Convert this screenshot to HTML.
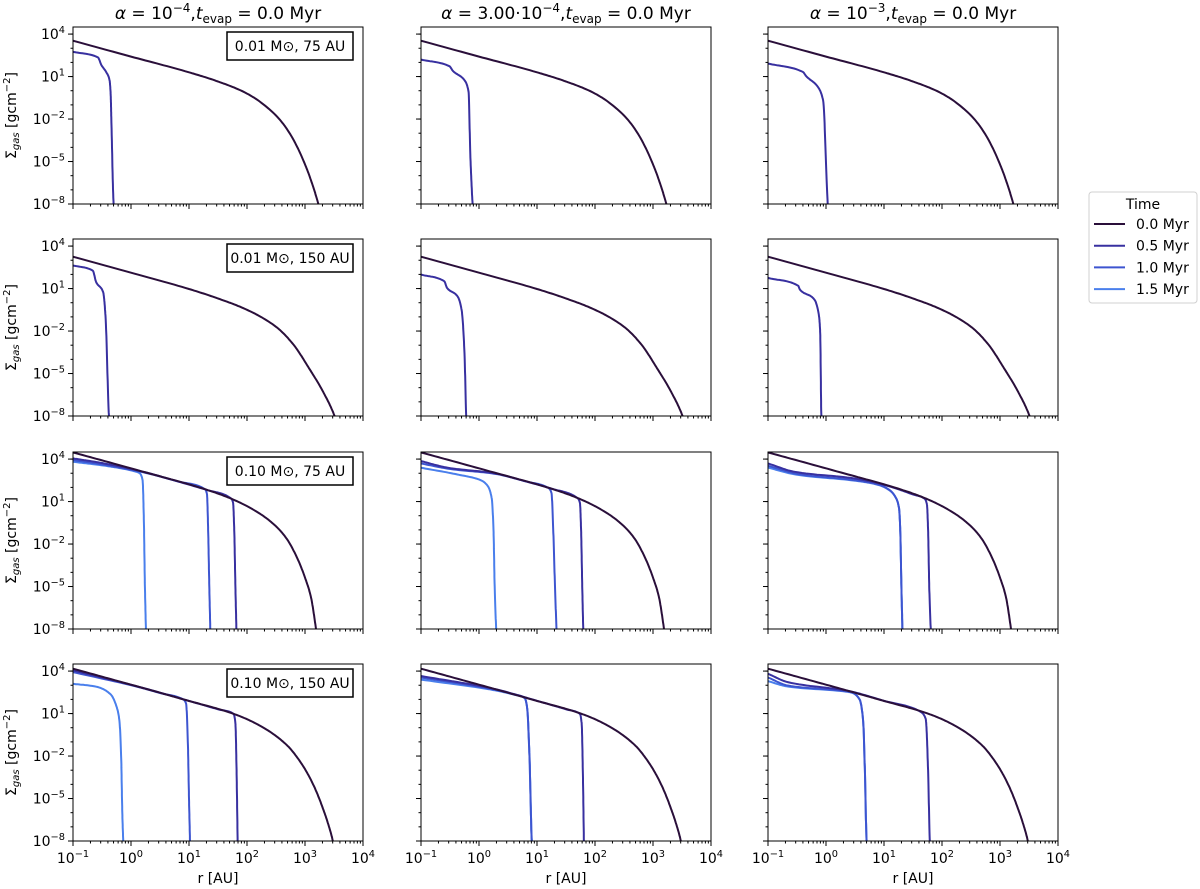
<!DOCTYPE html>
<html><head><meta charset="utf-8"><style>
html,body{margin:0;padding:0;background:#fff;}
svg{display:block;font-family:"DejaVu Sans","Liberation Sans",sans-serif;}
</style></head><body>
<svg id="fig" width="1200" height="889" viewBox="0 0 1200 889" xmlns="http://www.w3.org/2000/svg">
<g id="plots"></g>
<g id="legend">
  <rect x="1089" y="192" width="108" height="111" rx="3" fill="#fff" stroke="#d0d0d0"/>
  <text x="1143" y="209" font-size="14" text-anchor="middle">Time</text>
</g>
</svg>
<script>
// ---- data (log10 r [AU], log10 Sigma [g cm^-2]) ----
const timeLabels = ["0.0 Myr","0.5 Myr","1.0 Myr","1.5 Myr"];
const timeColors = ["#2a0f3a","#3830a0","#3d55d0","#4a7fec"];
const colTitles = [["10","−4",""],["3.00·10","−4",""],["10","−3",""]];
const rowNotes = ["0.01 M\u2299,  75 AU","0.01 M\u2299, 150 AU","0.10 M\u2299,  75 AU","0.10 M\u2299, 150 AU"];
const xTicks = [-1,0,1,2,3,4];
const yTicks = [4,1,-2,-5,-8];

// initial profiles (0.0 Myr), one per row
const t0R_row1 = [-1,0,1,1.5,2,2.5,2.75,3.0,3.15,3.23,3.27];
const t0S_row1 = [3.53,2.41,1.3,0.65,-0.2,-1.75,-3.1,-5.2,-6.9,-8.0,-8.6];
const t0R_row2 = [-1,0,1,1.5,2,2.5,2.8,3.05,3.3,3.51,3.55];
const t0S_row2 = [3.25,2.12,0.97,0.3,-0.5,-1.7,-2.95,-4.5,-6.2,-8.0,-8.5];
const t0R_row3 = [-1,0.26,1.24,1.73,2.22,2.5,2.68,2.85,3.02,3.1,3.19,3.21];
const t0S_row3 = [4.47,3.05,1.92,1.2,0.15,-0.75,-1.6,-2.85,-4.6,-5.7,-8.0,-8.6];
const t0R_row4 = [-1,0.15,0.95,1.79,2.22,2.68,2.95,3.14,3.3,3.45,3.48,3.5];
const t0S_row4 = [4.17,2.87,1.95,0.95,0.15,-1.2,-2.6,-4.0,-5.6,-7.5,-8.0,-8.4];

// 0.5 Myr profiles [row][col]
const t05R_r1c1=[-1,-0.57,-0.51,-0.43,-0.37,-0.35,-0.34,-0.3,-0.29], t05S_r1c1=[2.75,2.35,1.81,1.33,0.75,-0.3,-1.86,-8,-8.5];
const t05R_r1c2=[-1,-0.51,-0.45,-0.25,-0.18,-0.15,-0.11,-0.1], t05S_r1c2=[2.2,1.73,1.4,0.74,-0.09,-4.46,-8,-8.5];
const t05R_r1c3=[-1,-0.4,-0.34,-0.14,-0.05,0.03,0.04], t05S_r1c3=[1.92,1.33,1.02,0.27,-0.68,-8,-8.5];
const t05R_r2c1=[-1,-0.66,-0.6,-0.48,-0.44,-0.38,-0.37], t05S_r2c1=[2.63,2.27,1.45,0.74,-0.92,-8,-8.5];
const t05R_r2c2=[-1,-0.6,-0.55,-0.37,-0.3,-0.25,-0.22,-0.21], t05S_r2c2=[1.99,1.52,1.04,0.45,-0.5,-3.57,-8,-8.5];
const t05R_r2c3=[-1,-0.48,-0.45,-0.2,-0.12,-0.1,-0.08,-0.07], t05S_r2c3=[1.75,1.2,0.93,0.22,-0.96,-2.15,-8,-8.5];
const t05R_r3c1=[-1,-0.5,0.26,0.8,1.3,1.73,1.76,1.78,1.8,1.82], t05S_r3c1=[4.05,3.72,3.05,2.43,1.83,1.2,0.9,-1,-5,-8.5];
const t05R_r3c2=[-1,-0.54,0.26,0.8,1.24,1.7,1.74,1.76,1.78,1.8], t05S_r3c2=[3.86,3.39,3.0,2.43,1.92,1.24,0.9,-1,-5,-8.5];
const t05R_r3c3=[-1,-0.54,0.49,1.07,1.5,1.7,1.74,1.76,1.78,1.81], t05S_r3c3=[3.69,3.1,2.63,2.1,1.5,1.2,0.8,-1,-5,-8.5];
const t05R_r4c1=[-1,0.15,0.95,1.5,1.77,1.8,1.82,1.84], t05S_r4c1=[4.05,2.87,1.95,1.3,0.97,0.3,-3,-8.5];
const t05R_r4c2=[-1,0.25,1.0,1.5,1.74,1.77,1.79,1.81], t05S_r4c2=[3.65,2.75,1.9,1.3,0.97,0.3,-3,-8.5];
const t05R_r4c3=[-1,-0.66,0.38,1.0,1.64,1.72,1.76,1.79,1.8], t05S_r4c3=[3.81,3.22,2.6,1.9,1.1,0.6,-3,-8,-8.5];

// 1.0 Myr profiles (rows 3-4 only)
const t10R_r3c1=[-1,-0.5,0.26,0.8,1.28,1.31,1.33,1.35,1.37], t10S_r3c1=[3.93,3.62,3.02,2.43,1.86,1.5,-1,-5,-8.5];
const t10R_r3c2=[-1,-0.48,0.26,0.8,1.2,1.25,1.28,1.31,1.34], t10S_r3c2=[3.69,3.29,2.97,2.43,1.95,1.6,-1,-5,-8.5];
const t10R_r3c3=[-1,-0.48,0.49,0.9,1.1,1.2,1.26,1.28,1.3,1.32], t10S_r3c3=[3.53,2.94,2.51,2.2,1.8,1.3,0.5,-1,-5,-8.5];
const t10R_r4c1=[-1,0.15,0.5,0.9,0.95,0.98,1.0,1.02], t10S_r4c1=[3.93,2.85,2.45,2.0,1.7,-1,-5,-8.5];
const t10R_r4c2=[-1,0.25,0.6,0.79,0.83,0.87,0.91,0.92], t10S_r4c2=[3.55,2.7,2.36,2.1,1.4,-2,-8,-8.5];
const t10R_r4c3=[-1,-0.66,0.3,0.44,0.58,0.64,0.67,0.7,0.71], t10S_r4c3=[3.55,2.98,2.6,2.5,2.0,0.5,-3,-8,-8.5];

// 1.5 Myr profiles (rows 3-4 only)
const t15R_r3c1=[-1,-0.4,0.05,0.15,0.2,0.22,0.24,0.26], t15S_r3c1=[3.81,3.5,3.15,3.0,2.5,0,-5,-8.5];
const t15R_r3c2=[-1,-0.37,0.03,0.15,0.22,0.25,0.27,0.3], t15S_r3c2=[3.39,2.91,2.51,2.1,1.2,-1,-5,-8.5];
const t15R_r3c3=[-1,-0.48,0.49,0.9,1.1,1.2,1.26,1.28,1.3,1.32], t15S_r3c3=[3.4,2.88,2.48,2.18,1.78,1.3,0.5,-1,-5,-8.5];
const t15R_r4c1=[-1,-0.6,-0.35,-0.25,-0.2,-0.17,-0.15,-0.13], t15S_r4c1=[3.1,2.9,2.35,1.5,0.5,-2,-6,-8.5];
const t15R_r4c2=[-1,0.25,0.6,0.79,0.83,0.87,0.91,0.92], t15S_r4c2=[3.4,2.66,2.34,2.08,1.4,-2,-8,-8.5];
const t15R_r4c3=[-1,-0.66,0.3,0.44,0.58,0.64,0.67,0.7,0.71], t15S_r4c3=[3.29,2.91,2.57,2.48,1.98,0.5,-3,-8,-8.5];

const initR=[t0R_row1,t0R_row2,t0R_row3,t0R_row4], initS=[t0S_row1,t0S_row2,t0S_row3,t0S_row4];
const halfR=[[t05R_r1c1,t05R_r1c2,t05R_r1c3],[t05R_r2c1,t05R_r2c2,t05R_r2c3],[t05R_r3c1,t05R_r3c2,t05R_r3c3],[t05R_r4c1,t05R_r4c2,t05R_r4c3]];
const halfS=[[t05S_r1c1,t05S_r1c2,t05S_r1c3],[t05S_r2c1,t05S_r2c2,t05S_r2c3],[t05S_r3c1,t05S_r3c2,t05S_r3c3],[t05S_r4c1,t05S_r4c2,t05S_r4c3]];
const oneR=[[[],[],[]],[[],[],[]],[t10R_r3c1,t10R_r3c2,t10R_r3c3],[t10R_r4c1,t10R_r4c2,t10R_r4c3]];
const oneS=[[[],[],[]],[[],[],[]],[t10S_r3c1,t10S_r3c2,t10S_r3c3],[t10S_r4c1,t10S_r4c2,t10S_r4c3]];
const lateR=[[[],[],[]],[[],[],[]],[t15R_r3c1,t15R_r3c2,t15R_r3c3],[t15R_r4c1,t15R_r4c2,t15R_r4c3]];
const lateS=[[[],[],[]],[[],[],[]],[t15S_r3c1,t15S_r3c2,t15S_r3c3],[t15S_r4c1,t15S_r4c2,t15S_r4c3]];

// ---- layout ----
const NS="http://www.w3.org/2000/svg";
const colX=[73,421,768], rowY=[27,239,452,664], PW=290, PH=177;
const XMIN=-1, XMAX=4, YMIN=-8, YMAX=4.5;
function mk(tag,attrs,parent){const e=document.createElementNS(NS,tag);for(const k in attrs)e.setAttribute(k,attrs[k]);if(parent)parent.appendChild(e);return e;}
const root=document.getElementById('plots');
const defs=mk('defs',{},root);

function sx(c,v){return colX[c]+(v-XMIN)/(XMAX-XMIN)*PW;}
function sy(r,v){return rowY[r]+PH-(v-YMIN)/(YMAX-YMIN)*PH;}

// monotone cubic (Fritsch-Carlson) sampling in screen space
function smoothPts(X,Y){
  const n=X.length;
  if(n<3)return X.map((x,i)=>[x,Y[i]]);
  const d=[],m=new Array(n);
  for(let i=0;i<n-1;i++)d.push((Y[i+1]-Y[i])/(X[i+1]-X[i]));
  m[0]=d[0];m[n-1]=d[n-2];
  for(let i=1;i<n-1;i++){
    if(d[i-1]*d[i]<=0)m[i]=0;
    else{const w1=2*(X[i+1]-X[i])+(X[i]-X[i-1]),w2=(X[i+1]-X[i])+2*(X[i]-X[i-1]);m[i]=(w1+w2)/(w1/d[i-1]+w2/d[i]);}
  }
  const out=[];
  for(let i=0;i<n-1;i++){
    const h=X[i+1]-X[i];
    for(let k=0;k<16;k++){
      const t=k/16,t2=t*t,t3=t2*t;
      const y=(2*t3-3*t2+1)*Y[i]+(t3-2*t2+t)*h*m[i]+(-2*t3+3*t2)*Y[i+1]+(t3-t2)*h*m[i+1];
      out.push([X[i]+t*h,y]);
    }
  }
  out.push([X[n-1],Y[n-1]]);
  return out;
}

function powText(parent,x,y,base,exp,anchor,size,name){
  const t=mk('text',{x:x,y:y,'font-size':size,'text-anchor':anchor},parent);
  
  
  t.appendChild(document.createTextNode(base));
  const s=mk('tspan',{'font-size':size*0.7,dy:-size*0.42},t);s.textContent=exp;
  return t;
}

for(let c=0;c<3;c++){
  const cx=colX[c]+PW/2;
  const t=mk('text',{x:cx,y:19,'font-size':17,'text-anchor':'middle'},root);
  
  
  const a=mk('tspan',{'font-style':'italic'},t);a.textContent='α';
  const b=mk('tspan',{},t);b.textContent=' = '+colTitles[c][0];
  const e=mk('tspan',{'font-size':12,dy:-7},t);e.textContent=colTitles[c][1];
  const d=mk('tspan',{dy:7},t);d.textContent=',';
  const tt=mk('tspan',{'font-style':'italic'},t);tt.textContent='t';
  const ev=mk('tspan',{'font-size':12,dy:4},t);ev.textContent='evap';
  const f=mk('tspan',{dy:-4},t);f.textContent=' = 0.0 Myr';
}

for(let r=0;r<4;r++){
  for(let c=0;c<3;c++){
    const g=mk('g',{},root);
    
    
    const cid='clip'+r+c;
    const cp=mk('clipPath',{id:cid},defs);
    mk('rect',{x:colX[c],y:rowY[r],width:PW,height:PH},cp);
    const tk=mk('g',{stroke:'#000','stroke-width':1},g);
    
    
    const by=rowY[r]+PH;
    for(let d=XMIN;d<XMAX;d++){
      for(let m=2;m<=9;m++){const x=sx(c,d+Math.log10(m));mk('line',{x1:x,x2:x,y1:by,y2:by+2.5},tk);}
    }
    xTicks.forEach(v=>{const x=sx(c,v);mk('line',{x1:x,x2:x,y1:by,y2:by+5},tk);});
    for(let v=YMIN;v<=4;v++){const y=sy(r,v);mk('line',{x1:colX[c]-2.5,x2:colX[c],y1:y,y2:y},tk);}
    yTicks.forEach(v=>{const y=sy(r,v);mk('line',{x1:colX[c]-5,x2:colX[c],y1:y,y2:y},tk);});
    if(c===0){
      yTicks.forEach(v=>{powText(g,colX[0]-8,sy(r,v)+5,'10',v<0?'−'+(-v):String(v),'end',14,'y-tick-label');});
      const yl=mk('text',{x:0,y:0,'font-size':14,'text-anchor':'middle',transform:'translate(16,'+(rowY[r]+PH/2)+') rotate(-90)'},g);
      
      
      yl.appendChild(document.createTextNode('Σ'));
      const sb=mk('tspan',{'font-size':10,dy:3,'font-style':'italic'},yl);sb.textContent='gas';
      const rest=mk('tspan',{dy:-3},yl);rest.textContent=' [gcm';
      const sp=mk('tspan',{'font-size':10,dy:-6},yl);sp.textContent='−2';
      const cl=mk('tspan',{dy:6},yl);cl.textContent=']';
    }
    if(r===3){
      xTicks.forEach(v=>{powText(g,sx(c,v),by+22,'10',v<0?'−'+(-v):String(v),'middle',14,'x-tick-label');});
      const xl=mk('text',{x:colX[c]+PW/2,y:883,'font-size':14,'text-anchor':'middle'},g);
      
      
      xl.textContent='r [AU]';
    }
    const lines=mk('g',{'clip-path':'url(#'+cid+')',fill:'none','stroke-width':2,'stroke-linejoin':'round','stroke-linecap':'round'},g);
    const sets=[[initR[r],initS[r]],[halfR[r][c],halfS[r][c]],[oneR[r][c],oneS[r][c]],[lateR[r][c],lateS[r][c]]];
    for(let k=3;k>=0;k--){
      const R=sets[k][0],S=sets[k][1];
      if(!R.length)continue;
      const px=R.map(v=>sx(c,v)), py=S.map(v=>sy(r,v));
      const pts=smoothPts(px,py).map(p=>p[0].toFixed(1)+','+p[1].toFixed(1)).join(' ');
      const pl=mk('polyline',{points:pts,stroke:timeColors[k]},lines);
      
      
    }
    const fr=mk('rect',{x:colX[c],y:rowY[r],width:PW,height:PH,fill:'none',stroke:'#000','stroke-width':1},g);
    
    
    if(c===0){
      const bx=colX[0]+PW-10-126, byy=rowY[r]+5;
      const ab=mk('rect',{x:bx,y:byy,width:126,height:28,fill:'#fff',stroke:'#000','stroke-width':1.5},g);
      
      
      const at=mk('text',{x:bx+63,y:byy+19,'font-size':14,'text-anchor':'middle','xml:space':'preserve'},g);
      
      
      at.textContent=rowNotes[r];
    }
  }
}

const lg=document.getElementById('legend');
timeLabels.forEach((lab,i)=>{
  const y=224+i*21.7;
  const ln=mk('line',{x1:1094,x2:1125,y1:y,y2:y,stroke:timeColors[i],'stroke-width':2},lg);
  
  
  const t=mk('text',{x:1136,y:y+5,'font-size':14},lg);
  
  
  t.textContent=lab;
});
</script>
</body></html>
